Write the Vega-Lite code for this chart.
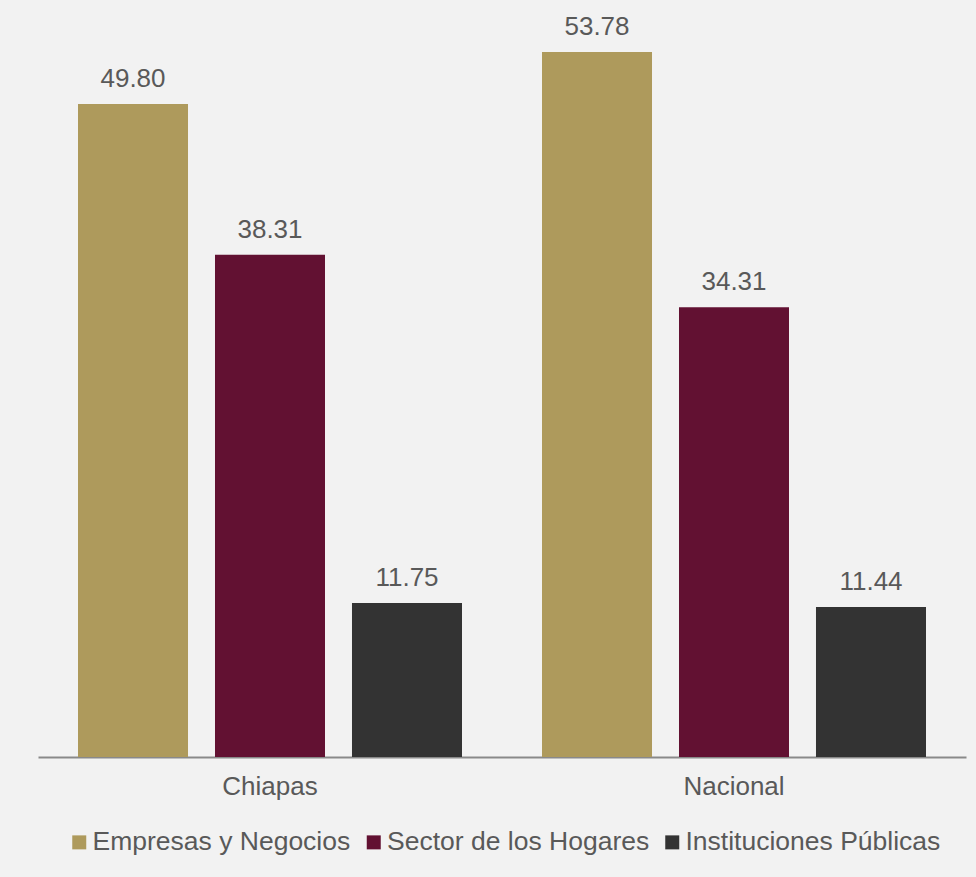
{
  "$schema": "https://vega.github.io/schema/vega-lite/v6.json",
  "autosize": "none",
  "width": 928,
  "height": 757,
  "padding": {"left": 38, "top": 0, "right": 10, "bottom": 120},
  "background": "#F2F2F2",
  "config": {
    "view": {"stroke": null},
    "font": "Liberation Sans"
  },
  "data": {
    "values": [
      {"region": "Chiapas", "sector": "Empresas y Negocios", "value": 49.80},
      {"region": "Chiapas", "sector": "Sector de los Hogares", "value": 38.31},
      {"region": "Chiapas", "sector": "Instituciones Públicas", "value": 11.75},
      {"region": "Nacional", "sector": "Empresas y Negocios", "value": 53.78},
      {"region": "Nacional", "sector": "Sector de los Hogares", "value": 34.31},
      {"region": "Nacional", "sector": "Instituciones Públicas", "value": 11.44}
    ]
  },
  "encoding": {
    "x": {
      "field": "region", "type": "nominal", "title": null,
      "scale": {"padding": 0},
      "axis": {"labelAngle": 0, "ticks": false, "labelPadding": 16, "labelFontSize": 26, "labelColor": "#595959", "domainColor": "#898989", "domainWidth": 2, "labelFont": "Liberation Sans"}
    },
    "xOffset": {
      "field": "sector", "type": "nominal",
      "sort": ["Empresas y Negocios", "Sector de los Hogares", "Instituciones Públicas"],
      "scale": {"paddingInner": 0.197, "paddingOuter": 0.292}
    },
    "y": {
      "field": "value", "type": "quantitative",
      "scale": {"domain": [0, 57.74], "nice": false, "zero": true},
      "axis": null
    }
  },
  "layer": [
    {
      "mark": {"type": "bar"},
      "encoding": {
        "color": {
          "field": "sector", "type": "nominal", "title": null,
          "sort": ["Empresas y Negocios", "Sector de los Hogares", "Instituciones Públicas"],
          "scale": {"domain": ["Empresas y Negocios", "Sector de los Hogares", "Instituciones Públicas"], "range": ["#AE9A5C", "#621132", "#333333"]},
          "legend": {"orient": "none", "legendX": 28, "legendY": 829, "padding": 0, "direction": "horizontal", "symbolType": "square", "symbolSize": 196, "symbolOpacity": 1, "symbolStrokeWidth": 0, "labelFontSize": 26.5, "labelColor": "#595959", "labelFont": "Liberation Sans", "columnPadding": 9.5, "symbolOffset": 0, "labelOffset": 0, "labelLimit": 400}
        }
      }
    },
    {
      "mark": {"type": "text", "dy": -17, "baseline": "alphabetic", "fontSize": 26, "color": "#595959", "font": "Liberation Sans"},
      "encoding": {
        "text": {"field": "value", "type": "quantitative", "format": ".2f"}
      }
    }
  ]
}
